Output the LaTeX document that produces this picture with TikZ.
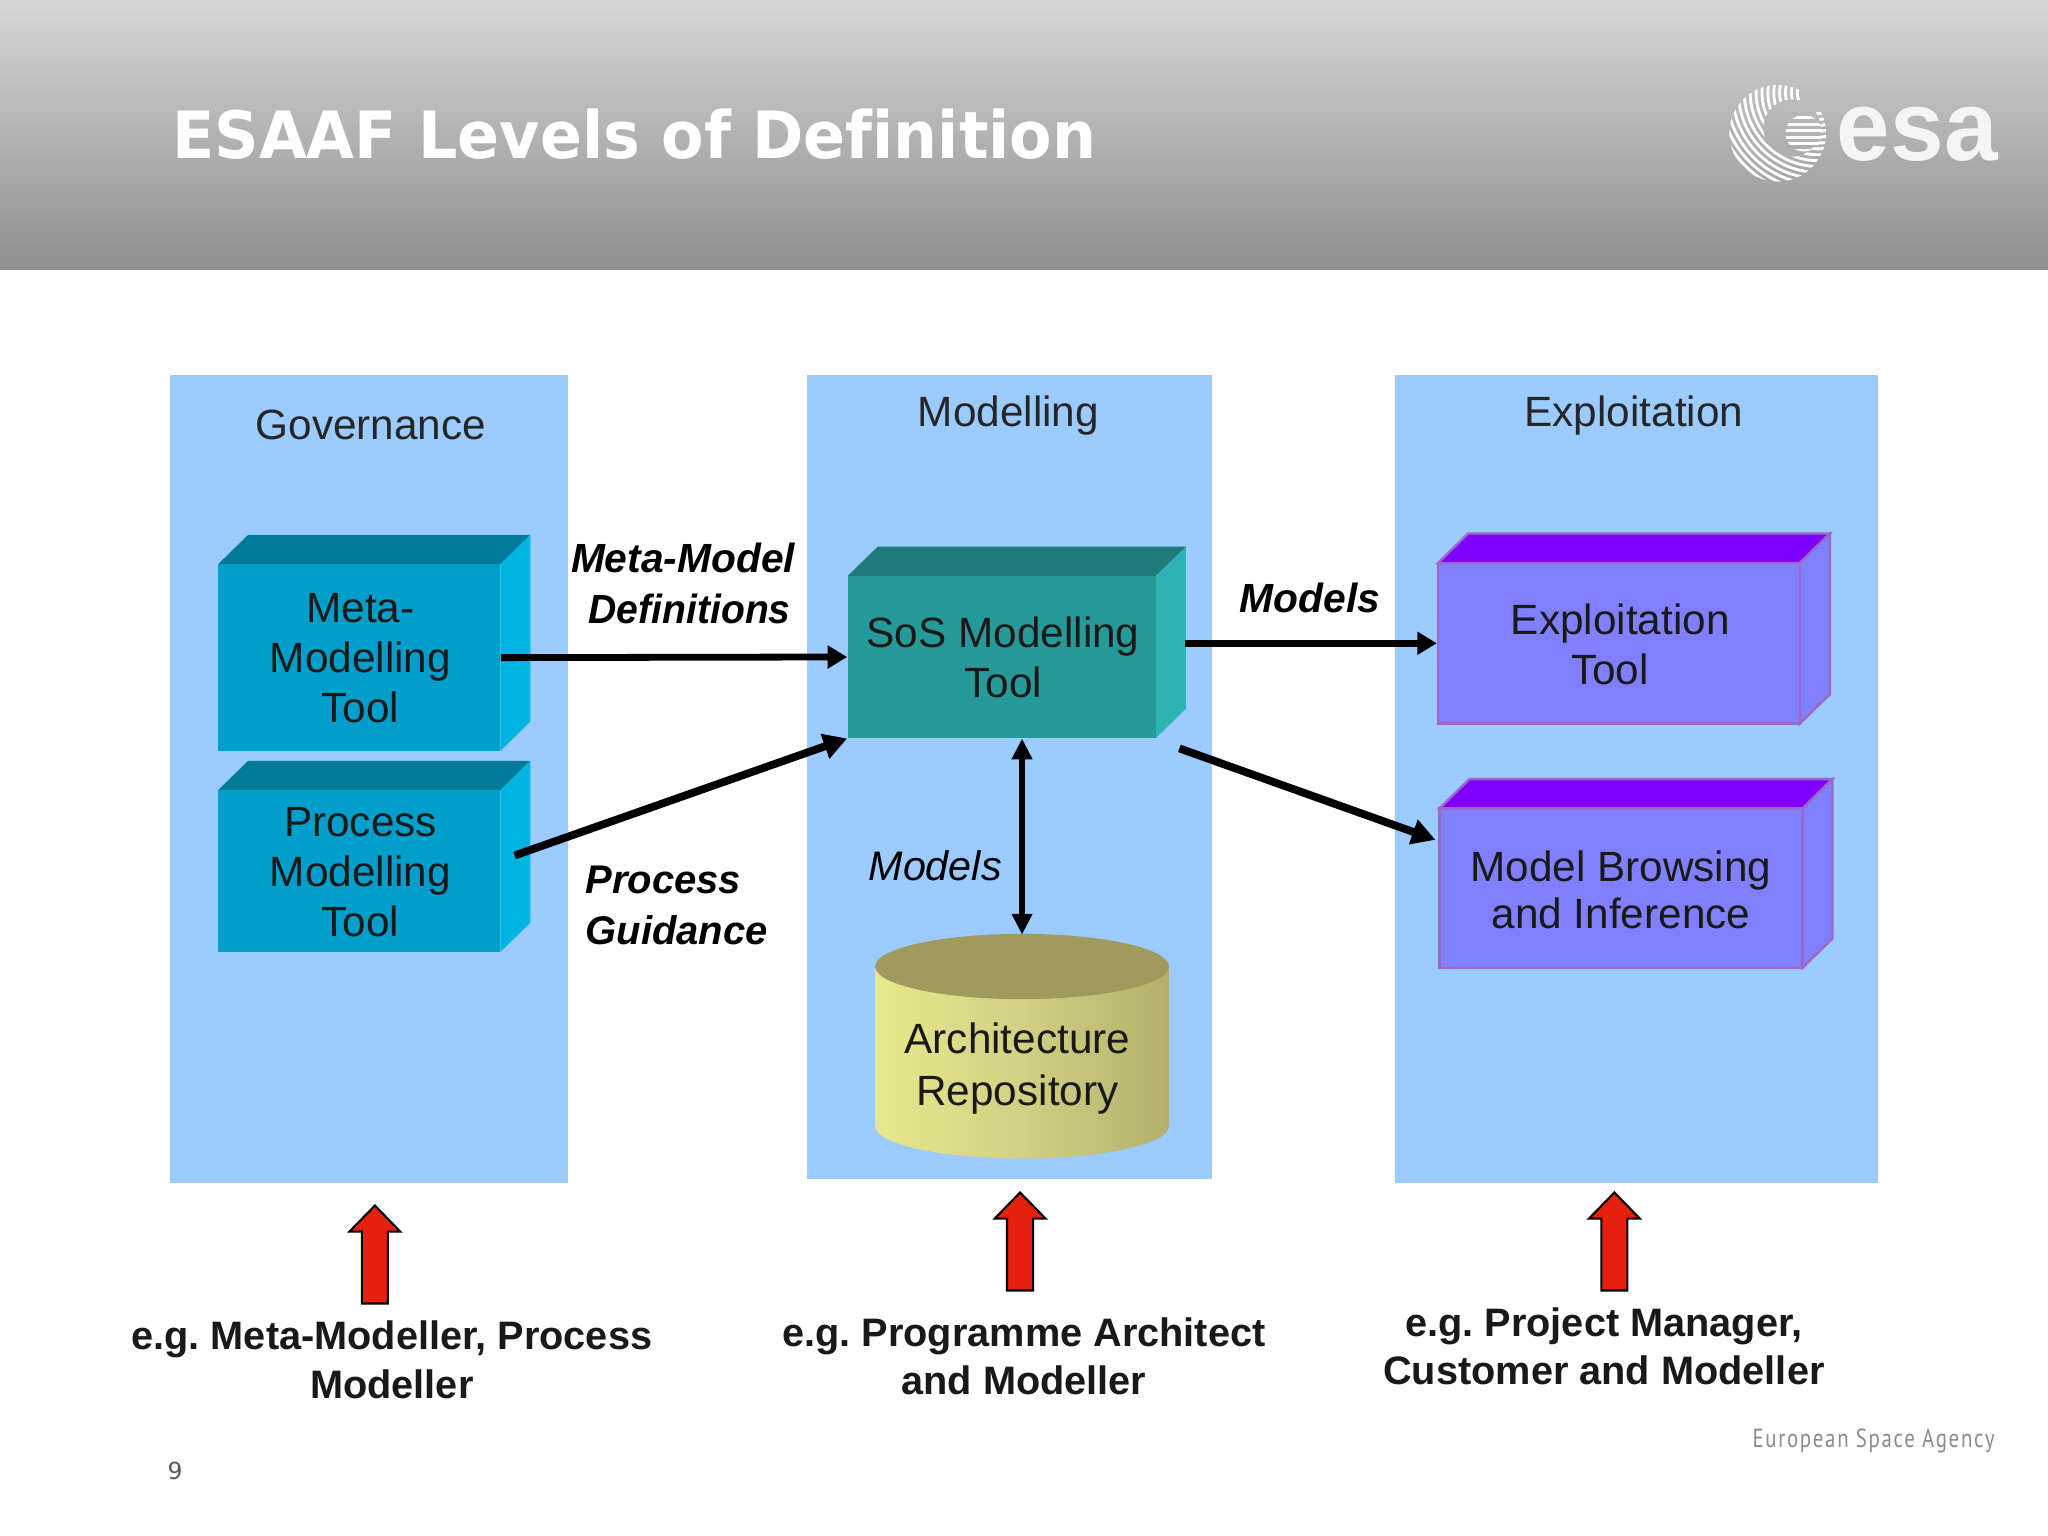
\documentclass[tikz,border=0pt]{standalone}
\usepackage{fontspec}
\usepackage{graphicx}
\setmainfont{Liberation Sans}
\newfontfamily\titlefont{DejaVu Sans}
\newfontfamily\footfont[LetterSpace=8]{PT Sans}
\usetikzlibrary{arrows.meta,calc}
\definecolor{panelblue}{HTML}{9CCBFF}
\definecolor{redfill}{HTML}{E6200F}
\definecolor{bluefront}{HTML}{009ECA}
\definecolor{bluetop}{HTML}{007A99}
\definecolor{blueside}{HTML}{00B4E2}
\definecolor{tealfront}{HTML}{269999}
\definecolor{tealtop}{HTML}{1F7A7A}
\definecolor{tealside}{HTML}{2DB3B3}
\definecolor{purpfront}{HTML}{8080FF}
\definecolor{purptop}{HTML}{7F00FF}
\definecolor{purpedge}{HTML}{9A68C8}
\definecolor{cylleft}{HTML}{E8E88C}
\definecolor{cylmid}{HTML}{D2D084}
\definecolor{cylright}{HTML}{B4B06C}
\definecolor{cyltop}{HTML}{A09A5C}
\tikzset{
  panel/.style={fill=panelblue,draw=none,inner sep=0pt},
  head/.style={font=\fontsize{16.2}{19}\selectfont,text=black!85,inner sep=0pt},
  boxtext/.style={font=\fontsize{16.2}{19.2}\selectfont,text=black!90,align=center,inner sep=0pt},
  flow/.style={font=\fontsize{15.6}{19.4}\selectfont\bfseries\itshape,align=center,inner sep=0pt},
  who/.style={font=\fontsize{15.2}{18.5}\selectfont\bfseries\frenchspacing,align=center,inner sep=0pt,text=black!90},
  link/.style={line width=2.6pt,-{Triangle[length=7.5pt,width=8.5pt]}},
  slant/.style={line width=3pt,-{Triangle[length=9pt,width=9.5pt]}},
  duplex/.style={line width=2pt,{Triangle[length=8pt,width=7.5pt]}-{Triangle[length=8pt,width=7.5pt]}},
  uparrow/.style={fill=redfill,draw=black,line width=0.8pt,line join=miter},
  plainface/.style={fill=#1,draw=none},
  edgeface/.style={fill=#1,draw=purpedge,line width=0.9pt}
}
\newcommand{\cuboid}[9]{%
  % name, cx, cy, w, h, front, top, side, style
  \path[#9=#7] (#2-#4/2,#3-#5/2) -- ++(23,-22.5) -- ++(#4,0) -- ++(-23,22.5) -- cycle;
  \path[#9=#8] (#2+#4/2,#3-#5/2) -- ++(23,-22.5) -- ++(0,#5) -- ++(-23,22.5) -- cycle;
  \node[#9=#6,minimum width=#4*0.5pt,minimum height=#5*0.5pt,inner sep=0pt] (#1) at (#2,#3) {};
}
\newcommand{\uparr}[3]{% tip x, tip y, base y
  \path[uparrow] (#1,#2) -- (#1+19.5,#2+20) -- (#1+10,#2+20) -- (#1+10,#3) -- (#1-10,#3) -- (#1-10,#2+20) -- (#1-19.5,#2+20) -- cycle;
}
\begin{document}
\begin{tikzpicture}[x=0.5pt,y=-0.5pt]
\useasboundingbox (0,0) rectangle (1568,1176);
\fill[white] (0,0) rectangle (1568,1176);
% header band
\path[top color=black!16,bottom color=black!44,draw=none] (0,0) rectangle (1568,206);
\node[anchor=west,inner sep=0pt,text=white,xscale=0.947] (title) at (131.5,103)
  {\titlefont\bfseries\fontsize{25}{30}\selectfont ESAAF Levels of Def\kern0pt inition};
% logo
\begin{scope}
  \clip (1361,102) circle (37) (1394,98) arc (0:-360:22);
  \foreach \r in {16,20.5,...,80}
    \draw[white,line width=1.1pt] (1392,71) circle (\r);
\end{scope}
\begin{scope}
  \clip (1381,102) circle (14);
  \foreach \yy in {90,95,...,115}
    \draw[white,line width=1.1pt] (1366,\yy) -- (1396,\yy);
\end{scope}
\node[anchor=base west,inner sep=0pt,text=white!96!black,xscale=0.97] (esa) at (1406,123)
  {\bfseries\fontsize{38}{40}\selectfont esa};
% panels
\path[panel] (130,287) rectangle (435,906);
\path[panel] (618,287) rectangle (928,903);
\path[panel] (1068,287) rectangle (1438,906);
\node[head] (hgov) at (284,325) {Governance};
\node[head] (hmod) at (772,318) {Modelling};
\node[head] (hexp) at (1251,318) {Exploitation};
% cuboids
\cuboid{meta}{275}{503.5}{216}{143}{bluefront}{bluetop}{blueside}{plainface}
\cuboid{proc}{275}{667}{216}{124}{bluefront}{bluetop}{blueside}{plainface}
\cuboid{sos}{767}{503}{236}{124}{tealfront}{tealtop}{tealside}{plainface}
\cuboid{expl}{1239.5}{492.5}{277}{123}{purpfront}{purptop}{purpfront}{edgeface}
\cuboid{brow}{1241}{680}{278}{122}{purpfront}{purptop}{purpfront}{edgeface}
\node[boxtext] (tmeta) at (276,504) {Meta-\\Modelling\\Tool};
\node[boxtext] (tproc) at (276,667.5) {Process\\Modelling\\Tool};
\node[boxtext] (tsos) at (768,503) {SoS Modelling\\Tool};
\node[boxtext] (texpl) at (1244.5,493.5) {Exploitation\hspace*{4pt}\\Tool\hspace*{12pt}};
\node[boxtext,font=\fontsize{16.2}{18}\selectfont] (tbrow) at (1241,681) {Model Browsing\\and Inference};
% repository
\path[left color=cylleft,right color=cylright,middle color=cylmid]
  (670,740) -- (670,862) arc (180:0:112.5 and 25) -- (895,740) -- cycle;
\fill[cyltop] (782.5,740) ellipse (112.5 and 25);
\node[minimum width=112.5pt,minimum height=86pt,inner sep=0pt] (repo) at (782.5,802) {};
\node[boxtext,font=\fontsize{16.2}{20}\selectfont] (trepo) at (779,818) {Architecture\\Repository};
% connector ends
\coordinate (procout) at (394,655);
\coordinate (sosout) at (907,492.5);
\coordinate (sosdiag) at (903,573);
\coordinate (browin) at (1099,643);
% connectors
\draw[link] (meta.east) -- (sos.west);
\draw[slant] (procout) -- (sos.south west);
\draw[link] (sosout) -- (expl.west);
\draw[slant] (sosdiag) -- (browin);
\draw[duplex] (repo.north |- sos.south) -- (repo.north);
% flow labels
\node[flow] (lmm) at (523,446.5) {Meta-Model\\\hspace*{5pt}\scalebox{0.96}[1]{Definitions}};
\node[flow,align=left,font=\fontsize{15.3}{19.4}\selectfont\bfseries\itshape] (lpg) at (518,693) {Process\\Guidance};
\node[flow] (lmodr) at (1003,458) {Models};
\node[flow,font=\fontsize{15.8}{19}\selectfont\itshape] (lmodl) at (716,663) {Models};
% red arrows
\uparr{287}{923}{998}
\uparr{781}{913}{988}
\uparr{1236}{913}{988}
% captions
\node[who] (w1) at (300,1041) {e.g. Meta-Modeller, Process\\Modeller};
\node[who] (w2) at (784,1038.5) {e.g. Programme Architect\\and Modeller};
\node[who] (w3) at (1228,1031) {e.g. Project Manager,\\Customer and Modeller};
% footer
\node[inner sep=0pt,anchor=east,text=black!45,xscale=0.8] (esaname) at (1527.5,1103.5)
  {\footfont\fontsize{10}{12}\selectfont European Space Agency};
\node[inner sep=0pt,text=black!65] (pageno) at (134,1126) {\titlefont\fontsize{9}{11}\selectfont 9};
\end{tikzpicture}
\end{document}
